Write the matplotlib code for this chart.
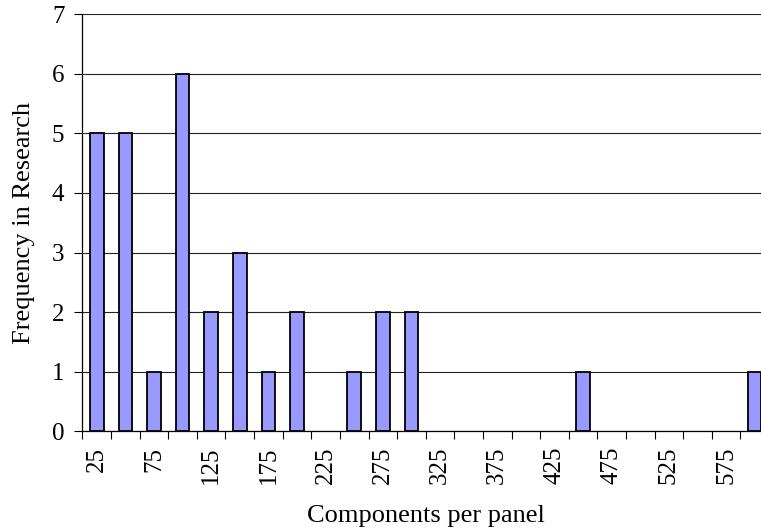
import numpy as np
from matplotlib import pyplot as plt

plt.rcParams['font.family'] = ['Liberation Serif', 'DejaVu Serif']

# components per panel (bin labels) and how often each appears in research
components = [25, 50, 75, 100, 125, 150, 175, 200, 225, 250, 275, 300,
              325, 350, 375, 400, 425, 450, 475, 500, 525, 550, 575, 600]
frequency = [5, 5, 1, 6, 2, 3, 1, 2, 0, 1, 2, 2,
             0, 0, 0, 0, 0, 1, 0, 0, 0, 0, 0, 1]

fig = plt.figure(figsize=(7.61, 5.31), dpi=100)
# the plot area runs past the right edge of the picture, like the original
ax: plt.Axes = fig.add_axes([0.1084, 0.1874, 0.902, 0.786])

pos = np.arange(len(components))
edge_w = [1.3 if f > 0 else 0 for f in frequency]
ax.bar(pos, frequency, width=0.47, color='#9999FF', edgecolor='black',
       linewidth=edge_w, zorder=3)

ax.set_xlim(-0.5, len(components) - 0.5)
ax.set_ylim(0, 7)
ax.set_yticks(range(0, 8))
ax.yaxis.grid(True, color='#222222', linewidth=0.8, zorder=0)

# ticks between categories, labels on every other category
ax.set_xticks(np.arange(-0.5, len(components)), minor=False)
ax.set_xticklabels([])
ax.set_xticks(pos[::2], minor=True)
ax.set_xticklabels([str(c) for c in components[::2]], minor=True,
                   rotation=90, va='top', ha='center')
ax.tick_params(axis='x', which='major', direction='out', length=6, width=0.8)
ax.tick_params(axis='x', which='minor', length=0, pad=11, labelsize=18)
ax.tick_params(axis='y', direction='out', length=6, width=0.8, pad=7,
               labelsize=18)

for side in ['top', 'right']:
    ax.spines[side].set_visible(False)
for side in ['left', 'bottom']:
    ax.spines[side].set_linewidth(0.9)

ax.set_xlabel('Components per panel', fontsize=19, labelpad=15)
ax.set_ylabel('Frequency in Research', fontsize=19, labelpad=12)

fig.savefig('out.png', dpi=100)
plt.close()
